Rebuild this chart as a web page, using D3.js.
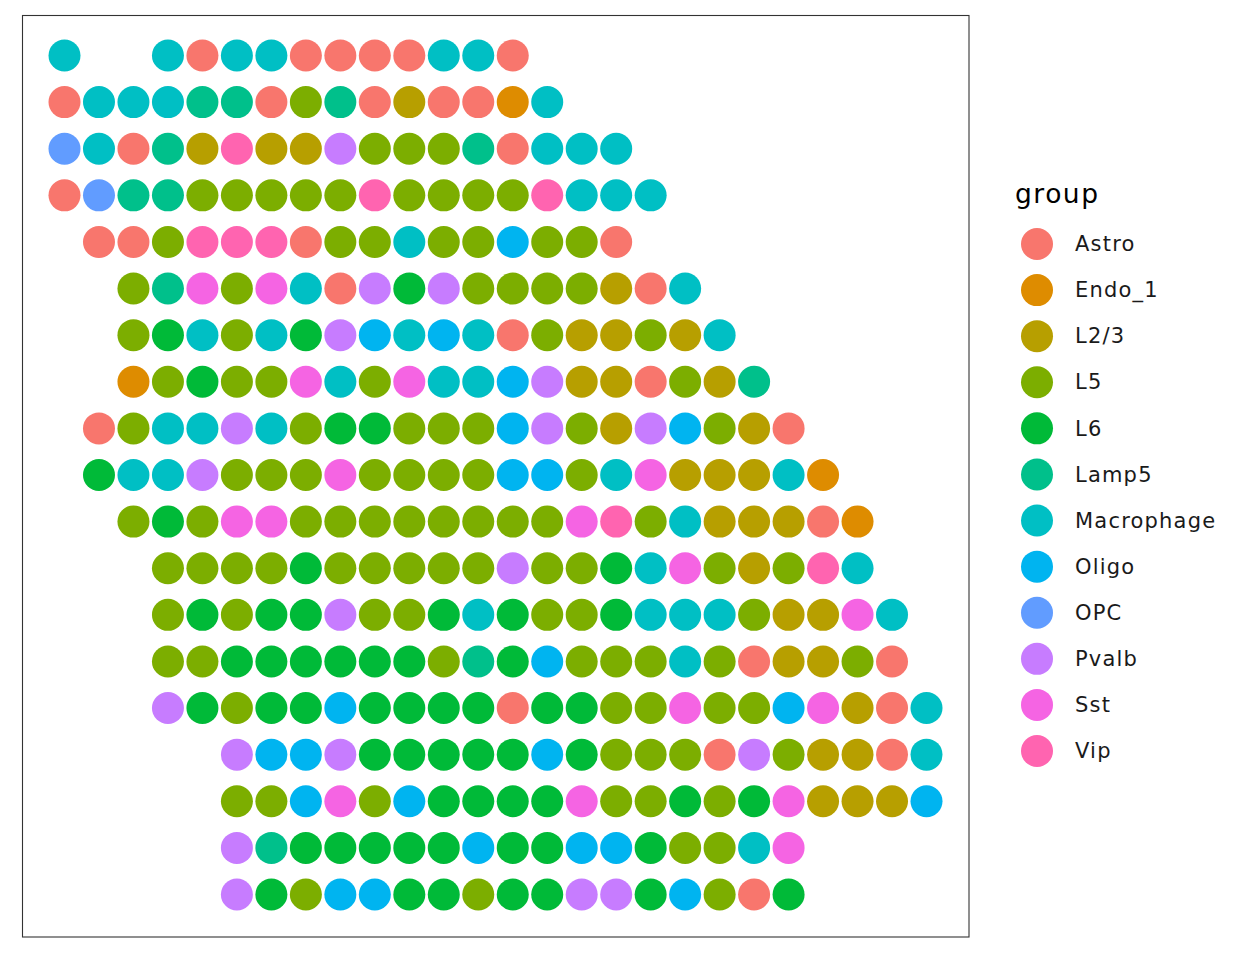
<!DOCTYPE html>
<html>
<head>
<meta charset="utf-8">
<script src="https://cdn.jsdelivr.net/npm/d3@7"></script>
<style>
  html, body { margin: 0; padding: 0; background: #fff; }
  svg { display: block; font-family: "DejaVu Sans", sans-serif; }
</style>
</head>
<body>
<svg id="chart" width="1248" height="960"></svg>
<script>
// ---- data ----
const categories = ["Astro","Endo_1","L2/3","L5","L6","Lamp5","Macrophage","Oligo","OPC","Pvalb","Sst","Vip"];
const codes      = ["A","E","L23","L5","L6","La","M","O","P","Pv","S","V"];
const colors     = ["#F8766D","#DE8C00","#B79F00","#7CAE00","#00BA38","#00C08B","#00BFC4","#00B4F0","#619CFF","#C77CFF","#F564E3","#FF64B0"];
const rowStart = [0,0,0,0,1,2,2,2,1,1,2,3,3,3,3,5,5,5,5];
const rowSpots = [
  "M _ _ M A M M A A A A M M A",
  "A M M M La La A L5 La A L23 A A E M",
  "P M A La L23 V L23 L23 Pv L5 L5 L5 La A M M M",
  "A P La La L5 L5 L5 L5 L5 V L5 L5 L5 L5 V M M M",
  "A A L5 V V V A L5 L5 M L5 L5 O L5 L5 A",
  "L5 La S L5 S M A Pv L6 Pv L5 L5 L5 L5 L23 A M",
  "L5 L6 M L5 M L6 Pv O M O M A L5 L23 L23 L5 L23 M",
  "E L5 L6 L5 L5 S M L5 S M M O Pv L23 L23 A L5 L23 La",
  "A L5 M M Pv M L5 L6 L6 L5 L5 L5 O Pv L5 L23 Pv O L5 L23 A",
  "L6 M M Pv L5 L5 L5 S L5 L5 L5 L5 O O L5 M S L23 L23 L23 M E",
  "L5 L6 L5 S S L5 L5 L5 L5 L5 L5 L5 L5 S V L5 M L23 L23 L23 A E",
  "L5 L5 L5 L5 L6 L5 L5 L5 L5 L5 Pv L5 L5 L6 M S L5 L23 L5 V M",
  "L5 L6 L5 L6 L6 Pv L5 L5 L6 M L6 L5 L5 L6 M M M L5 L23 L23 S M",
  "L5 L5 L6 L6 L6 L6 L6 L6 L5 La L6 O L5 L5 L5 M L5 A L23 L23 L5 A",
  "Pv L6 L5 L6 L6 O L6 L6 L6 L6 A L6 L6 L5 L5 S L5 L5 O S L23 A M",
  "Pv O O Pv L6 L6 L6 L6 L6 O L6 L5 L5 L5 A Pv L5 L23 L23 A M",
  "L5 L5 O S L5 O L6 L6 L6 L6 S L5 L5 L6 L5 L6 S L23 L23 L23 O",
  "Pv La L6 L6 L6 L6 L6 O L6 L6 O O L6 L5 L5 M S",
  "Pv L6 L5 O O L6 L6 L5 L6 L6 Pv Pv L6 O L5 A L6"
];

// ---- build spots ----
const spots = [];
rowSpots.forEach((str, r) => {
  str.split(" ").forEach((c, i) => {
    if (c === "_") return;
    spots.push({ row: r, col: rowStart[r] + i, group: categories[codes.indexOf(c)] });
  });
});

const svg = d3.select("#chart");
const panel = { left: 22.5, top: 15.5, right: 969, bottom: 937 };

const x = d3.scaleLinear().domain([0, 25]).range([64.5, 926.5]);
const y = d3.scaleLinear().domain([0, 18]).range([55.5, 894.5]);
const color = d3.scaleOrdinal().domain(categories).range(colors);

// panel border
svg.append("rect")
  .attr("x", panel.left).attr("y", panel.top)
  .attr("width", panel.right - panel.left).attr("height", panel.bottom - panel.top)
  .attr("fill", "#fff").attr("stroke", "#333333").attr("stroke-width", 1.1);

svg.append("g").selectAll("circle").data(spots).join("circle")
  .attr("cx", d => x(d.col))
  .attr("cy", d => y(d.row))
  .attr("r", 16)
  .attr("fill", d => color(d.group));

// legend
const legY = d3.scalePoint().domain(categories).range([244, 751]);
const leg = svg.append("g");
leg.append("text")
  .attr("x", 1015).attr("y", 203)
  .attr("font-size", 26.5).attr("letter-spacing", 1.5)
  .attr("fill", "#000")
  .text("group");
const items = leg.selectAll("g.item").data(categories).join("g").attr("class", "item");
items.append("circle")
  .attr("cx", 1037).attr("cy", d => legY(d)).attr("r", 16)
  .attr("fill", d => color(d));
items.append("text")
  .attr("x", 1075).attr("y", d => legY(d))
  .attr("dy", "0.34em")
  .attr("font-size", 21).attr("letter-spacing", 1.2)
  .attr("fill", "#1a1a1a")
  .text(d => d);
</script>
</body>
</html>
